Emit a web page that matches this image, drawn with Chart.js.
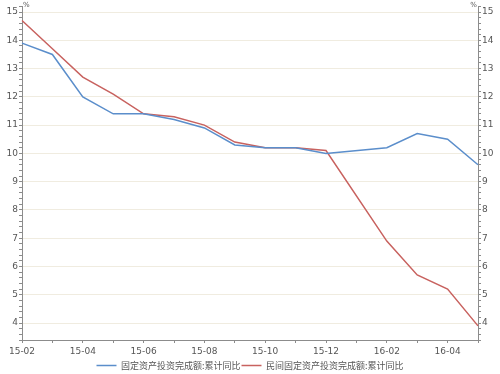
<!DOCTYPE html>
<html>
<head>
<meta charset="utf-8">
<script src="https://cdn.jsdelivr.net/npm/chart.js@4"></script>
<style>
  html, body { margin: 0; padding: 0; background: #fff; }
  #wrap { width: 500px; height: 374px; }
</style>
</head>
<body>
<div id="wrap"><canvas id="c"></canvas></div>
<script>
// months (no January figure in 2016, line spans the gap)
const months = ["15-02", "15-03", "15-04", "15-05", "15-06", "15-07", "15-08", "15-09",
  "15-10", "15-11", "15-12", "16-01", "16-02", "16-03", "16-04", "16-05"];
const totalInvest = [13.9, 13.5, 12.0, 11.4, 11.4, 11.2, 10.9, 10.3, 10.2, 10.2, 10.0, null, 10.2, 10.7, 10.5, 9.6];
const privateInvest = [14.7, 13.7, 12.7, 12.1, 11.4, 11.3, 11.0, 10.4, 10.2, 10.2, 10.1, null, 6.9, 5.7, 5.2, 3.9];
const yMin = 3.4, yMax = 15.2;

const gray = "#8c8c8c";
const txt = "#555";
const isInt = v => Math.abs(v - Math.round(v)) < 0.01;

// "%" over both y axes
const unitLabels = {
  id: "unitLabels",
  afterDraw(chart) {
    const { ctx, chartArea } = chart;
    ctx.save();
    ctx.fillStyle = txt;
    ctx.font = "7px 'DejaVu Sans'";
    ctx.textBaseline = "middle";
    ctx.textAlign = "left";
    ctx.fillText("%", chartArea.left + 1, 5);
    ctx.textAlign = "right";
    ctx.fillText("%", chartArea.right - 1, 5);
    ctx.restore();
  }
};

const yAxis = (pos) => ({
  type: "linear",
  position: pos,
  min: yMin,
  max: yMax,
  afterFit: s => { s.width = 22; },
  border: { color: gray, width: 1 },
  grid: {
    drawOnChartArea: pos === "left",
    color: c => (c.tick && isInt(c.tick.value)) ? "#f0ece0" : "rgba(0,0,0,0)",
    tickColor: gray,
    tickLength: 3
  },
  ticks: {
    stepSize: 0.2,
    autoSkip: false,
    padding: 1,
    color: txt,
    font: { family: "DejaVu Sans", size: 9 },
    callback: v => isInt(v) ? String(Math.round(v)) : ""
  }
});

new Chart(document.getElementById("c"), {
  type: "line",
  data: {
    labels: months,
    datasets: [
      {
        label: "固定资产投资完成额:累计同比",
        data: totalInvest,
        borderColor: "#5b8ecb",
        backgroundColor: "#5b8ecb",
        borderWidth: 1.5,
        pointRadius: 0,
        tension: 0,
        spanGaps: true,
        yAxisID: "y"
      },
      {
        label: "民间固定资产投资完成额:累计同比",
        data: privateInvest,
        borderColor: "#c8625f",
        backgroundColor: "#c8625f",
        borderWidth: 1.5,
        pointRadius: 0,
        tension: 0,
        spanGaps: true,
        yAxisID: "y"
      }
    ]
  },
  options: {
    responsive: true,
    maintainAspectRatio: false,
    animation: false,
    layout: { padding: { top: 6, left: 0, right: 0, bottom: -6 } },
    plugins: {
      legend: {
        position: "bottom",
        labels: {
          usePointStyle: true,
          pointStyle: "line",
          pointStyleWidth: 20,
          boxHeight: 4,
          padding: 1,
          color: txt,
          font: { family: "Noto Sans CJK SC", size: 9 }
        }
      },
      tooltip: { enabled: false }
    },
    scales: {
      x: {
        type: "category",
        offset: false,
        afterFit: s => { s.height = 20; },
        border: { color: gray, width: 1 },
        grid: { drawOnChartArea: false, tickColor: gray, tickLength: 3 },
        ticks: {
          autoSkip: false,
          maxRotation: 0,
          padding: 3,
          color: txt,
          font: { family: "DejaVu Sans", size: 9 },
          callback: (v, i) => i % 2 === 0 ? months[i] : ""
        }
      },
      y: yAxis("left"),
      y2: yAxis("right")
    }
  },
  plugins: [unitLabels]
});
</script>
</body>
</html>
